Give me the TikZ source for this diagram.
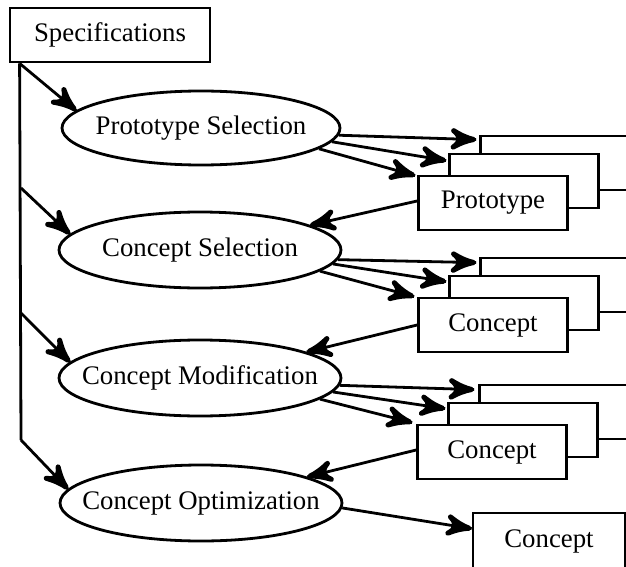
\documentclass[tikz,border=0pt]{standalone}
\usepackage{fontspec}
\setmainfont{Liberation Serif}
\usetikzlibrary{arrows}
\usetikzlibrary{calc}
\usetikzlibrary{decorations.markings}
\usetikzlibrary{positioning}
\usetikzlibrary{shapes.geometric}
\tikzset{->/.style = {decoration={markings,
                                  mark=at position 1 with {\arrow[scale=1.8]{stealth'}}},
                      postaction={decorate}}}

\begin{document}
\begin{tikzpicture}[x=0.5pt, y=-0.5pt, line width=1.4pt,
    font=\fontsize{13.4}{16}\selectfont,
    box/.style = {draw, fill=white, minimum width=74.5pt, minimum height=27pt, inner sep=0pt},
    stage/.style = {draw, ellipse, minimum width=141pt, minimum height=38pt, inner sep=0pt}]
      \useasboundingbox (0, 0) rectangle (626, 567);
      \clip (0, 0) rectangle (626, 567);
      \node [box, minimum width=100pt] (spec) at (110, 35) {Specifications};
      \node [stage, minimum width=139pt, minimum height=37pt] (ps) at (201, 128) {\makebox[0pt]{Prototype Selection}};
      \node [stage] (cs) at (200, 250) {\makebox[0pt]{Concept Selection}};
      \node [stage] (cm) at (200, 378) {\makebox[0pt]{Concept Modification}};
      \node [stage] (co) at (201, 503) {\makebox[0pt]{Concept Optimization}};
      % stacks of results
      \node [box] (a3) at (555, 163) {};
      \node [box] (a2) at (524, 181) {};
      \node [box] (a1) at (493, 203) {Prototype};
      \node [box] (b3) at (555, 285) {};
      \node [box] (b2) at (524, 303) {};
      \node [box] (b1) at (493, 325) {Concept};
      \node [box] (c3) at (554, 412) {};
      \node [box] (c2) at (523, 430) {};
      \node [box] (c1) at (492, 452) {Concept};
      \node [box, minimum width=76pt, minimum height=28pt] (d) at (549, 541) {Concept};
      % left rail
      \coordinate (k0) at ($(spec.south west) + (11, 0)$);
      \coordinate (k1) at (21, 188);
      \coordinate (k2) at (21, 313);
      \coordinate (k3) at (21, 440);
      \draw (k0) -- (k3);
      \draw [->] (k0) -- (ps.172);
      \draw [->] (k1) -- (cs.173);
      \draw [->] (k2) -- (cm.173);
      \draw [->] (k3) -- (co.174);
      % out to the stacks
      \draw [->] (ps.-3) -- ($(a3.north west) + (-3, 5)$);
      \draw [->] (ps.-6) -- ($(a2.north west) + (-2, 8)$);
      \draw [->] (ps.-10) -- ($(a1.north west) + (-2, 1)$);
      \draw [->] (cs.-4) -- ($(b3.north west) + (-3, 6)$);
      \draw [->] (cs.-6) -- ($(b2.north west) + (-2, 7)$);
      \draw [->] (cs.-10) -- ($(b1.north west) + (-3, 0)$);
      \draw [->] (cm.-3) -- ($(c3.north west) + (-4, 6)$);
      \draw [->] (cm.-6) -- ($(c2.north west) + (-2, 7)$);
      \draw [->] (cm.-10) -- ($(c1.north west) + (-4, -1)$);
      \draw [->] (co.-2) -- (d);
      % back to the next stage
      \draw [->] ([yshift=1pt]a1.west) -- (cs);
      \draw [->] (b1.west) -- (cm);
      \draw [->] ([yshift=1pt]c1.west) -- (co);
    \end{tikzpicture}
\end{document}
